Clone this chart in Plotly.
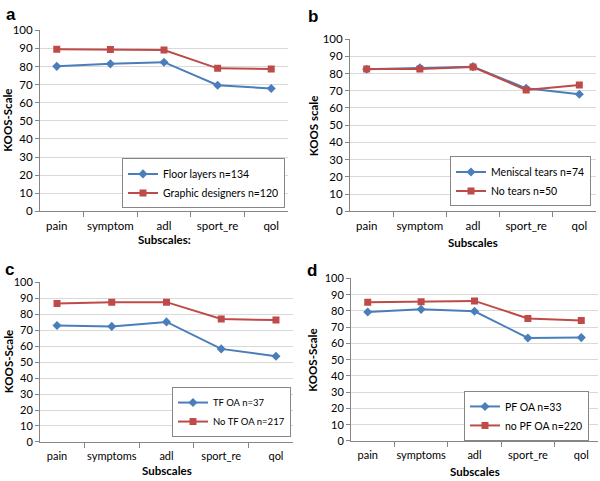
import plotly.graph_objects as go

W, H = 600, 481

cats_a = ["pain", "symptom", "adl", "sport_re", "qol"]
cats_b = ["pain", "symptom", "adl", "sport_re", "qol"]
cats_c = ["pain", "symptoms", "adl", "sport_re", "qol"]
cats_d = ["pain", "symptoms", "adl", "sport_re", "qol"]

floor_layers = [80.1, 81.5, 82.4, 69.7, 67.9]
graphic_designers = [89.6, 89.4, 89.1, 79.0, 78.7]

meniscal_tears = [82.5, 83.3, 84.0, 71.4, 68.0]
no_tears = [82.7, 82.7, 83.8, 70.5, 73.3]

tf_oa = [73.0, 72.4, 75.2, 58.3, 53.7]
no_tf_oa = [86.8, 87.6, 87.6, 77.0, 76.4]

pf_oa = [79.4, 81.0, 79.8, 63.4, 63.6]
no_pf_oa = [85.4, 85.6, 86.2, 75.4, 74.2]

y_ticks = [0, 10, 20, 30, 40, 50, 60, 70, 80, 90, 100]

BLUE = "#4A7EBB"
RED = "#BE4B48"
FONT = "Lato, 'Open Sans', sans-serif"


def px(x):
    return x / W


def py(y):
    return 1 - y / H


panels = [
    dict(cats=cats_a, s1=floor_layers, s2=graphic_designers,
         n1="Floor layers n=134", n2="Graphic designers n=120",
         xd=(40, 288), yd=(24, 210), leg=(285, 207), legfs=10.5, tfs=11.5,
         ytitle="KOOS-Scale", ytx=8, xtitle="Subscales:", xty=239, lab="a", lab_xy=(4, 8)),
    dict(cats=cats_b, s1=meniscal_tears, s2=no_tears,
         n1="Meniscal tears n=74", n2="No tears n=50",
         xd=(350, 596), yd=(33, 210), leg=(591, 205), legfs=10.5, tfs=11.5,
         ytitle="KOOS scale", ytx=313, xtitle="Subscales", xty=242, lab="b", lab_xy=(306, 10)),
    dict(cats=cats_c, s1=tf_oa, s2=no_tf_oa,
         n1="TF OA n=37", n2="No TF OA n=217",
         xd=(40, 293), yd=(283, 447), leg=(291, 442), legfs=9.5, tfs=11,
         ytitle="KOOS-Scale", ytx=8, xtitle="Subscales", xty=476, lab="c", lab_xy=(3, 270)),
    dict(cats=cats_d, s1=pf_oa, s2=no_pf_oa,
         n1="PF OA n=33", n2="no PF OA n=220",
         xd=(351, 598), yd=(279, 446), leg=(589, 446), legfs=10.5, tfs=11,
         ytitle="KOOS-Scale", ytx=313, xtitle="Subscales", xty=477, lab="d", lab_xy=(305, 271)),
]

fig = go.Figure()
layout = dict(width=W, height=H, margin=dict(l=0, r=0, t=0, b=0),
              paper_bgcolor="white", plot_bgcolor="white", annotations=[],
              font=dict(family=FONT, color="#000000"))

for i, p in enumerate(panels, start=1):
    sfx = "" if i == 1 else str(i)
    xa = "x" + sfx
    ya = "y" + sfx
    leg = "legend" + sfx
    fig.add_trace(go.Scatter(x=p["cats"], y=p["s1"], name=p["n1"], mode="lines+markers",
                             line=dict(color=BLUE, width=2),
                             marker=dict(symbol="diamond", size=7, color=BLUE),
                             xaxis=xa, yaxis=ya, legend=leg))
    fig.add_trace(go.Scatter(x=p["cats"], y=p["s2"], name=p["n2"], mode="lines+markers",
                             line=dict(color=RED, width=2),
                             marker=dict(symbol="square", size=7, color=RED),
                             xaxis=xa, yaxis=ya, legend=leg))
    layout["xaxis" + sfx] = dict(domain=[px(p["xd"][0]), px(p["xd"][1])], anchor=ya,
                                 type="category", showline=True, linecolor="#868686", linewidth=1,
                                 ticks="outside", tickson="boundaries", ticklen=5, tickcolor="#868686",
                                 showgrid=False, tickangle=0, ticklabelstandoff=4,
                                 tickfont=dict(size=p["tfs"], family=FONT),
                                 fixedrange=True)
    layout["yaxis" + sfx] = dict(domain=[py(p["yd"][1]), py(p["yd"][0])], anchor=xa,
                                 range=[0, 100], tickvals=y_ticks, showline=True,
                                 linecolor="#868686", linewidth=1, ticks="outside", ticklen=4,
                                 tickcolor="#868686", showgrid=True, gridcolor="#D9D9D9",
                                 zeroline=False, tickfont=dict(size=p["tfs"], family=FONT),
                                 fixedrange=True)
    layout[leg] = dict(x=px(p["leg"][0]), y=py(p["leg"][1]), xanchor="right", yanchor="bottom",
                       bordercolor="#868686", borderwidth=1, bgcolor="white",
                       font=dict(size=p["legfs"], family=FONT), tracegroupgap=0,
                       itemwidth=30)
    cy = (p["yd"][0] + p["yd"][1]) / 2
    layout["annotations"].append(dict(text="<b>" + p["ytitle"] + "</b>", x=px(p["ytx"]), y=py(cy),
                                      xref="paper", yref="paper", textangle=-90, showarrow=False,
                                      font=dict(size=11.5, family=FONT), xanchor="center", yanchor="middle"))
    cx = (p["xd"][0] + p["xd"][1]) / 2
    layout["annotations"].append(dict(text="<b>" + p["xtitle"] + "</b>", x=px(cx), y=py(p["xty"]),
                                      xref="paper", yref="paper", showarrow=False,
                                      font=dict(size=11.5, family=FONT), xanchor="center", yanchor="middle"))
    layout["annotations"].append(dict(text="<b>" + p["lab"] + "</b>", x=px(p["lab_xy"][0]),
                                      y=py(p["lab_xy"][1]), xref="paper", yref="paper",
                                      showarrow=False, font=dict(size=17, family="Liberation Sans, Arial"),
                                      xanchor="left", yanchor="middle"))

fig.update_layout(**layout)
fig.write_html("out.html", config={"displayModeBar": False},
               post_script="document.body.style.margin='0';document.body.style.overflow='hidden';")
